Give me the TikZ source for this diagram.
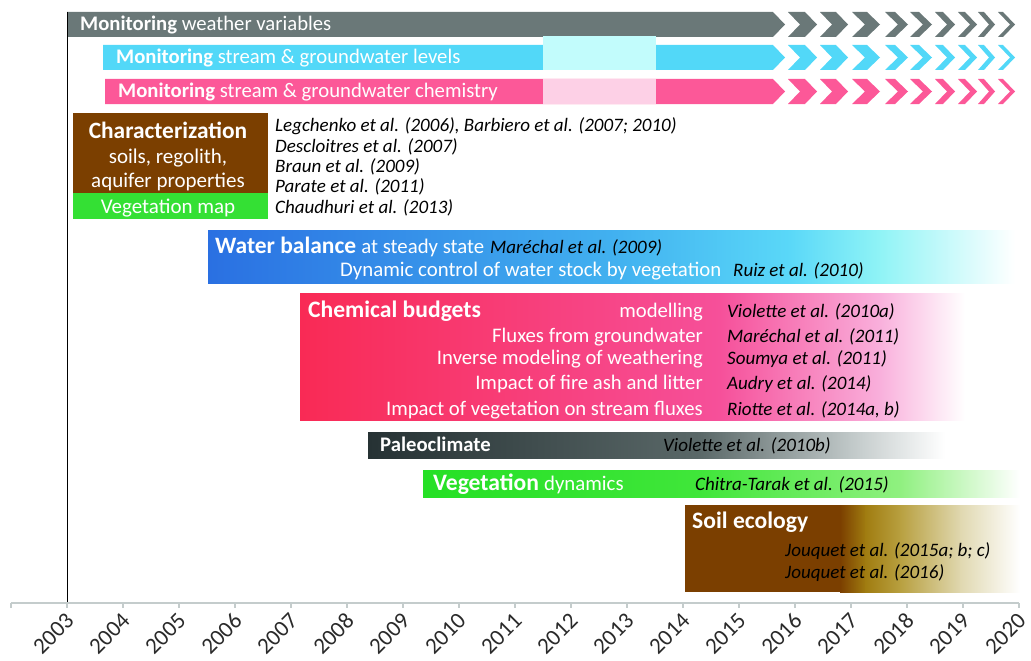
\documentclass[tikz,border=0pt]{standalone}
\usepackage{fontspec}
\setmainfont{Carlito}
\definecolor{wgray}{HTML}{6A7878}
\definecolor{scyan}{HTML}{52D8F8}
\definecolor{spink}{HTML}{FC5898}
\definecolor{lcyan}{HTML}{C2FCFC}
\definecolor{lpink}{HTML}{FDD0E6}
\definecolor{cbrown}{HTML}{7B3F00}
\definecolor{vgreen}{HTML}{34E034}
\definecolor{axgray}{HTML}{C4CCCC}
\definecolor{lblgray}{HTML}{2A2A2A}
\tikzset{
  hdr/.style={anchor=base west, text=white, inner sep=0pt, font=\fontsize{20.7}{22}\selectfont},
  ref/.style={anchor=base west, text=black, inner sep=0pt, font=\fontsize{19}{20}\selectfont\itshape},
  wlbl/.style={anchor=base west, text=white, inner sep=0pt, font=\fontsize{20.8}{22}\selectfont},
  rlbl/.style={anchor=base east, text=white, inner sep=0pt, font=\fontsize{20.7}{22}\selectfont},
  bighdr/.style={anchor=base west, text=white, inner sep=0pt, font=\fontsize{23.6}{25}\selectfont\bfseries},
  chlbl/.style={anchor=base, text=white, inner sep=0pt, font=\fontsize{21}{22}\selectfont},
  yearlbl/.style={anchor=east, rotate=45, text=lblgray, inner sep=0pt, font=\fontsize{23}{24}\selectfont},
}
% chevron: #1 x0, #2 total width, #3 thickness, #4 top, #5 bottom, #6 colour
\newcommand{\mychev}[6]{%
  \fill[#6] (#1,#4) -- ({#1+#3},#4) -- ({#1+#2},{(#4+#5)/2}) -- ({#1+#3},#5) -- (#1,#5) -- ({#1+#2-#3},{(#4+#5)/2}) -- cycle;}
\newcommand{\mychevrow}[3]{%
  \mychev{788}{29}{17}{#1}{#2}{#3}
  \mychev{820}{28}{16}{#1}{#2}{#3}
  \mychev{852}{28}{15}{#1}{#2}{#3}
  \mychev{885}{23}{10}{#1}{#2}{#3}
  \mychev{910}{22}{9}{#1}{#2}{#3}
  \mychev{935}{20}{8}{#1}{#2}{#3}
  \mychev{958}{19}{7}{#1}{#2}{#3}
  \mychev{978}{17}{6}{#1}{#2}{#3}
  \mychev{998}{17}{5}{#1}{#2}{#3}}
\begin{document}
\begin{tikzpicture}[x=1pt,y=-1pt]
\useasboundingbox (0,0) rectangle (1031,661);

% ---------- monitoring bars ----------
\fill[wgray] (67,12) -- (773,12) -- (785,24.5) -- (773,37) -- (67,37) -- cycle;
\mychevrow{12}{37}{wgray}
\fill[scyan] (103,45) -- (773,45) -- (785,57.5) -- (773,70) -- (103,70) -- cycle;
\mychevrow{45}{70}{scyan}
\fill[spink] (105,79) -- (773,79) -- (785,91.5) -- (773,104) -- (105,104) -- cycle;
\mychevrow{79}{104}{spink}
\fill[lcyan] (543,36) rectangle (656,70);
\fill[lpink] (543,79) rectangle (656,104);

\node[hdr] (mw) at (80,31) {\textbf{Monitoring} weather variables};
\node[hdr] (ms) at (116,64) {\textbf{Monitoring} stream \& groundwater levels};
\node[hdr] (mc) at (118,98) {\textbf{Monitoring} stream \& groundwater chemistry};

% ---------- characterization ----------
\fill[cbrown] (73,113) rectangle (268,193);
\fill[vgreen] (73,193) rectangle (268,219);
\node[chlbl, font=\fontsize{23.4}{25}\selectfont\bfseries] (ch) at (168,138) {Characterization};
\node[chlbl] (ch2) at (168,163) {soils, regolith,};
\node[chlbl] (ch3) at (168,187) {aquifer properties};
\node[chlbl] (vm) at (168,213) {Vegetation map};
\node[ref] (r1) at (275,131) {Legchenko et al. (2006), Barbiero et al. (2007; 2010)};
\node[ref] (r2) at (275,152) {Descloitres et al. (2007)};
\node[ref] (r3) at (275,172) {Braun et al. (2009)};
\node[ref] (r4) at (275,192) {Parate et al. (2011)};
\node[ref] (r5) at (275,213) {Chaudhuri et al. (2013)};

% ---------- water balance ----------
\fill[left color={rgb,255:red,42;green,112;blue,226}, right color={rgb,255:red,66;green,178;blue,240}] (208,230) rectangle (621,283);
\fill[left color={rgb,255:red,66;green,178;blue,240}, right color={rgb,255:red,90;green,216;blue,248}] (620,230) rectangle (791,283);
\fill[left color={rgb,255:red,90;green,216;blue,248}, right color={rgb,255:red,144;green,244;blue,246}] (790,230) rectangle (881,283);
\fill[left color={rgb,255:red,144;green,244;blue,246}, right color=white] (880,230) rectangle (1015,283);
\node[bighdr, font=\fontsize{23.5}{25}\selectfont\bfseries] (wb) at (215,253) {Water balance};
\node[wlbl] (wb2) at (wb.base east) {\ at steady state};
\node[ref] (wr1) at (490,253) {Maréchal et al. (2009)};
\node[wlbl] (wb3) at (340,276) {Dynamic control of water stock by vegetation};
\node[ref] (wr2) at (733,276) {Ruiz et al. (2010)};

% ---------- chemical budgets ----------
\fill[left color={rgb,255:red,249;green,42;blue,85}, right color={rgb,255:red,246;green,80;blue,154}] (300,293) rectangle (721,420);
\fill[left color={rgb,255:red,246;green,80;blue,154}, right color={rgb,255:red,249;green,176;blue,220}] (720,293) rectangle (881,420);
\fill[left color={rgb,255:red,249;green,176;blue,220}, right color=white] (880,293) rectangle (965,420);
\node[bighdr] (cb) at (308,317) {Chemical budgets};
\node[rlbl] (cb1) at (703,317) {modelling};
\node[rlbl] (cb2) at (703,342) {Fluxes from groundwater};
\node[rlbl] (cb3) at (703,364) {Inverse modeling of weathering};
\node[rlbl] (cb4) at (703,389) {Impact of fire ash and litter};
\node[rlbl] (cb5) at (703,415) {Impact of vegetation on stream fluxes};
\node[ref] (cr1) at (727,317) {Violette et al. (2010a)};
\node[ref] (cr2) at (727,342) {Maréchal et al. (2011)};
\node[ref] (cr3) at (727,364) {Soumya et al. (2011)};
\node[ref] (cr4) at (727,389) {Audry et al. (2014)};
\node[ref] (cr5) at (727,415) {Riotte et al. (2014a, b)};

% ---------- paleoclimate ----------
\fill[left color={rgb,255:red,38;green,50;blue,52}, right color={rgb,255:red,90;green,104;blue,104}] (368,432) rectangle (701,458);
\fill[left color={rgb,255:red,90;green,104;blue,104}, right color={rgb,255:red,192;green,200;blue,200}] (700,432) rectangle (851,458);
\fill[left color={rgb,255:red,192;green,200;blue,200}, right color=white] (850,432) rectangle (945,458);
\node[bighdr, font=\fontsize{20.7}{22}\selectfont\bfseries] (pc) at (380,451) {Paleoclimate};
\node[ref] (pr) at (663,451) {Violette et al. (2010b)};

% ---------- vegetation dynamics ----------
\fill[left color={rgb,255:red,37;green,224;blue,37}, right color={rgb,255:red,64;green,230;blue,58}] (423,470) rectangle (701,497);
\fill[left color={rgb,255:red,64;green,230;blue,58}, right color={rgb,255:red,144;green,240;blue,128}] (700,470) rectangle (901,497);
\fill[left color={rgb,255:red,144;green,240;blue,128}, right color=white] (900,470) rectangle (1020,497);
\node[bighdr] (vd) at (433,490) {Vegetation};
\node[wlbl] (vd2) at (vd.base east) {\ dynamics};
\node[ref] (vr) at (695,490) {Chitra-Tarak et al. (2015)};

% ---------- soil ecology ----------
\fill[cbrown] (685,505) rectangle (841,592);
\fill[left color=cbrown, right color={rgb,255:red,160;green,124;blue,16}] (840,505) rectangle (866,592);
\fill[left color={rgb,255:red,160;green,124;blue,16}, right color={rgb,255:red,184;green,160;blue,64}] (865,505) rectangle (901,592);
\fill[left color={rgb,255:red,184;green,160;blue,64}, right color={rgb,255:red,224;green,216;blue,176}] (900,505) rectangle (961,592);
\fill[left color={rgb,255:red,224;green,216;blue,176}, right color=white] (960,505) rectangle (1020,592);
\node[bighdr] (se) at (692,528) {Soil ecology};
\node[ref] (sr1) at (785,556) {Jouquet et al. (2015a; b; c)};
\node[ref] (sr2) at (785,578) {Jouquet et al. (2016)};

% ---------- axis ----------
\coordinate (ytop) at (67,12);
\coordinate (ybot) at (67,603);
\draw[black, line width=0.8pt] (ytop) -- (ybot);
\coordinate (xl) at (11,603);
\coordinate (xr) at (1019,603);
\draw[axgray, line width=1.2pt] (xl) -- (xr);
\foreach \i in {0,...,18} {
  \pgfmathsetmacro{\xx}{11+56*\i}
  \draw[axgray, line width=1.2pt] (\xx,603) -- (\xx,608);
}
\foreach \i in {1,...,18} {
  \pgfmathsetmacro{\xx}{11+56*\i}
  \pgfmathtruncatemacro{\yr}{2002+\i}
  \node[yearlbl] (y\yr) at (\xx+3,617) {\yr};
}
\end{tikzpicture}
\end{document}
